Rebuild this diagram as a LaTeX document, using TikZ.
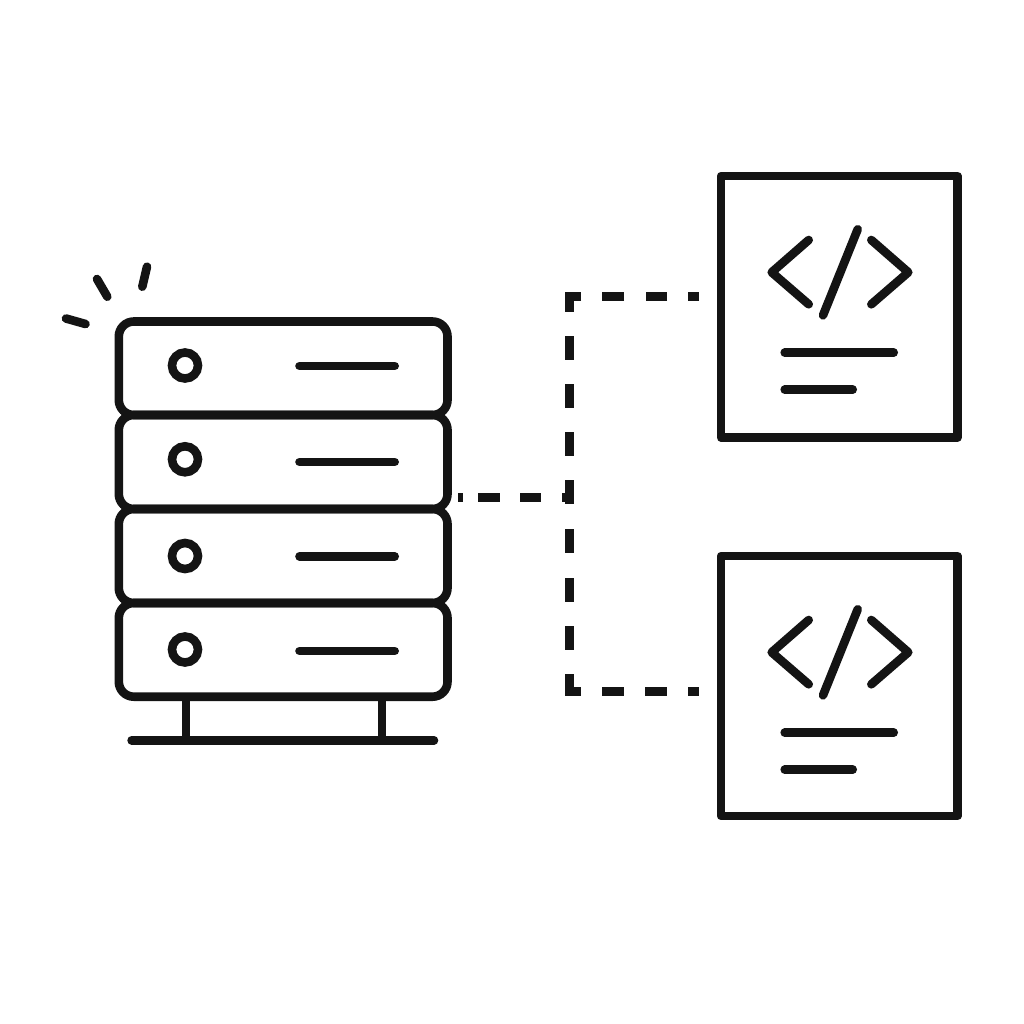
\documentclass[tikz,border=0pt]{standalone}
\begin{document}
\begin{tikzpicture}[x=1pt,y=-1pt,
  ink/.style={draw=black!92,line width=8.6pt},
  rack/.style={ink,rounded corners=15pt},
  rline/.style={ink,line cap=round},
  doc/.style={ink,line join=round},
  dashline/.style={draw=black!92,line width=9pt}]
\useasboundingbox (0,0) rectangle (1024,1024);
\fill[white] (0,0) rectangle (1024,1024);
\foreach \t/\b/\c/\l in {321.5/415/365.5/366,415/509/459.3/462,509/603/556/556.3,603/696.7/649.5/651}{
  \draw[rack] (118.8,\t) rectangle (447.5,\b);
  \draw[ink] (185,\c) circle (13pt);
  \draw[rline] (299.5,\l) -- (394.7,\l);
}
\draw[ink] (186,696) -- (186,740);
\draw[ink] (382,696) -- (382,740);
\draw[rline] (131.6,740.3) -- (434,740.3);
\draw[rline] (66,318.5) -- (85.5,324);
\draw[rline] (97,279) -- (107.3,296.7);
\draw[rline] (147,266.7) -- (142.3,286.7);
\foreach \y/\h in {0/261.5,380/260}{
  \draw[doc] (721,176+\y) rectangle (957.5,176+\y+\h);
  \draw[rline,line join=round] (808.7,240+\y) -- (771.7,272.3+\y) -- (808.7,304.3+\y);
  \draw[rline,line join=round] (871.3,240+\y) -- (908.3,272.3+\y) -- (871.3,304.3+\y);
  \draw[rline] (857.7,229.3+\y) -- (823,315.3+\y);
  \draw[rline] (784.7,352.7+\y) -- (893.7,352.7+\y);
  \draw[rline] (784.7,389.7+\y) -- (852.7,389.7+\y);
}
\coordinate (j) at (574,497.5);
\coordinate (c1) at (569.5,296.5);
\coordinate (c2) at (569.5,691.5);
\coordinate (t) at (699,296.5);
\coordinate (b) at (699,691.5);
\draw[dashline,dash pattern=on 5pt off 15pt on 22pt off 20pt on 21pt off 21pt on 12pt off 100pt] (458,497.5) -- (j);
\draw[dashline,dash pattern=on 11pt off 21pt on 21pt off 22pt on 22pt off 21pt on 27pt off 24pt on 24pt off 24pt on 24pt off 24pt on 24pt off 24pt on 24pt off 25pt on 24pt off 25pt on 24pt off 24pt on 24pt off 24pt on 29pt off 21pt on 22pt off 21pt on 22pt off 21pt on 11pt off 100pt] (t) -- (c1) -- (c2) -- (b);
\end{tikzpicture}
\end{document}
